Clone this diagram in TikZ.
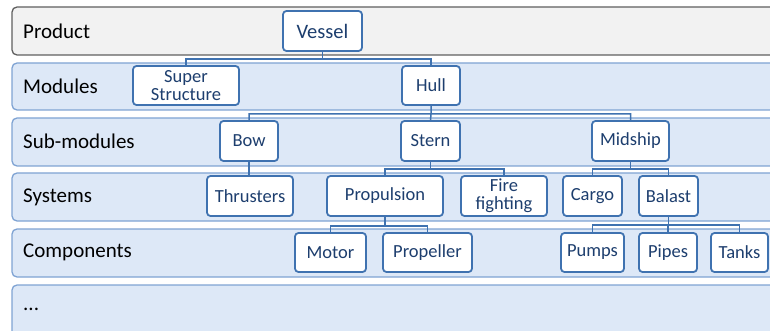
\documentclass[tikz,border=0pt]{standalone}
\usepackage{fontspec}
\setmainfont{Carlito}
\definecolor{bandfill}{HTML}{DDE8F7}
\definecolor{bandline}{HTML}{7FA3D3}
\definecolor{topfill}{HTML}{F2F2F2}
\definecolor{topline}{HTML}{5F5F5F}
\definecolor{itemline}{HTML}{3F72B0}
\definecolor{itemtext}{HTML}{1D3E6E}
\begin{document}
\begin{tikzpicture}[x=1pt, y=-1pt,
    band/.style={draw=bandline, fill=bandfill, line width=1.3pt, rounded corners=5pt},
    lbl/.style={anchor=west, inner sep=0pt, text=black, font=\fontsize{21}{22}\selectfont},
    item/.style={draw=itemline, fill=white, line width=1.8pt, rounded corners=3.5pt,
        text=itemtext, font=\fontsize{18.5}{18}\selectfont, align=center,
        minimum height=40pt, inner sep=1pt},
    link/.style={draw=itemline, line width=1.5pt},
    ]
  \useasboundingbox (0,0) rectangle (770,331);
  \draw[band, draw=topline, fill=topfill] (12,7) rectangle (790,55);
  \draw[band] (12,63) rectangle (790,110);
  \draw[band] (12,118) rectangle (790,166);
  \draw[band] (12,173) rectangle (790,221);
  \draw[band] (12,229) rectangle (790,277);
  \draw[band] (12,285) rectangle (790,345);

  \node[lbl] (product) at (23,31) {Product};
  \node[lbl] (modules) at (23,86) {Modules};
  \node[lbl] (submodules) at (23,141) {Sub-modules};
  \node[lbl] (systems) at (23,197) {Systems};
  \node[lbl] (components) at (23,252) {Components};
  \node[lbl] (more) at (23,309) {...};

  \node[item, minimum width=79pt, font=\fontsize{20.5}{20}\selectfont] (vessel) at (322.5,31) {Vessel};
  \node[item, minimum width=106pt, minimum height=39pt] (super) at (186,85.5) {Super\\Structure};
  \node[item, minimum width=58pt, minimum height=39pt] (hull) at (431,85.5) {Hull};
  \node[item, minimum width=58pt] (bow) at (249,141) {Bow};
  \node[item, minimum width=59pt] (stern) at (430.5,141) {Stern};
  \node[item, minimum width=77pt] (midship) at (630.5,141) {Midship};
  \node[item, minimum width=86pt] (thrusters) at (250,196) {Thrusters};
  \node[item, minimum width=116pt] (propulsion) at (385,196) {Propulsion};
  \node[item, minimum width=86pt] (fire) at (504,196) {Fire\\fighting};
  \node[item, minimum width=59pt] (cargo) at (592.5,196) {Cargo};
  \node[item, minimum width=59pt] (balast) at (668.5,196) {Balast};
  \node[item, minimum width=71pt, minimum height=39pt] (motor) at (330.5,252.5) {Motor};
  \node[item, minimum width=89pt, minimum height=39pt] (propeller) at (427.5,252.5) {Propeller};
  \node[item, minimum width=63pt, minimum height=39pt] (pumps) at (592.5,252.5) {Pumps};
  \node[item, minimum width=58pt, minimum height=39pt] (pipes) at (668,252.5) {Pipes};
  \node[item, minimum width=57pt, minimum height=39pt] (tanks) at (739.5,252.5) {Tanks};

  \draw[link] (vessel.south) -- ++(0,7) coordinate (v) -| (super.north) (v) -| (hull.north);
  \draw[link] (hull.south) -- ++(0,8) coordinate (h) -| (bow.north) (h) -| (midship.north) (h) -- (stern.north);
  \draw[link] (bow.south) -- (bow.south |- thrusters.north);
  \draw[link] (stern.south) -- ++(0,7) coordinate (s) -| (propulsion.north) (s) -| (fire.north);
  \draw[link] (midship.south) -- ++(0,7) coordinate (m) -| (cargo.north) (m) -| (balast.north);
  \draw[link] (propulsion.south) -- ++(0,9) coordinate (p) -| (motor.north) (p) -| (propeller.north);
  \draw[link] (balast.south) -- ++(0,8) coordinate (b) -| (pumps.north) (b) -| (tanks.north) (b) -- (b -| pipes.north) -- (pipes.north);
\end{tikzpicture}
\end{document}
